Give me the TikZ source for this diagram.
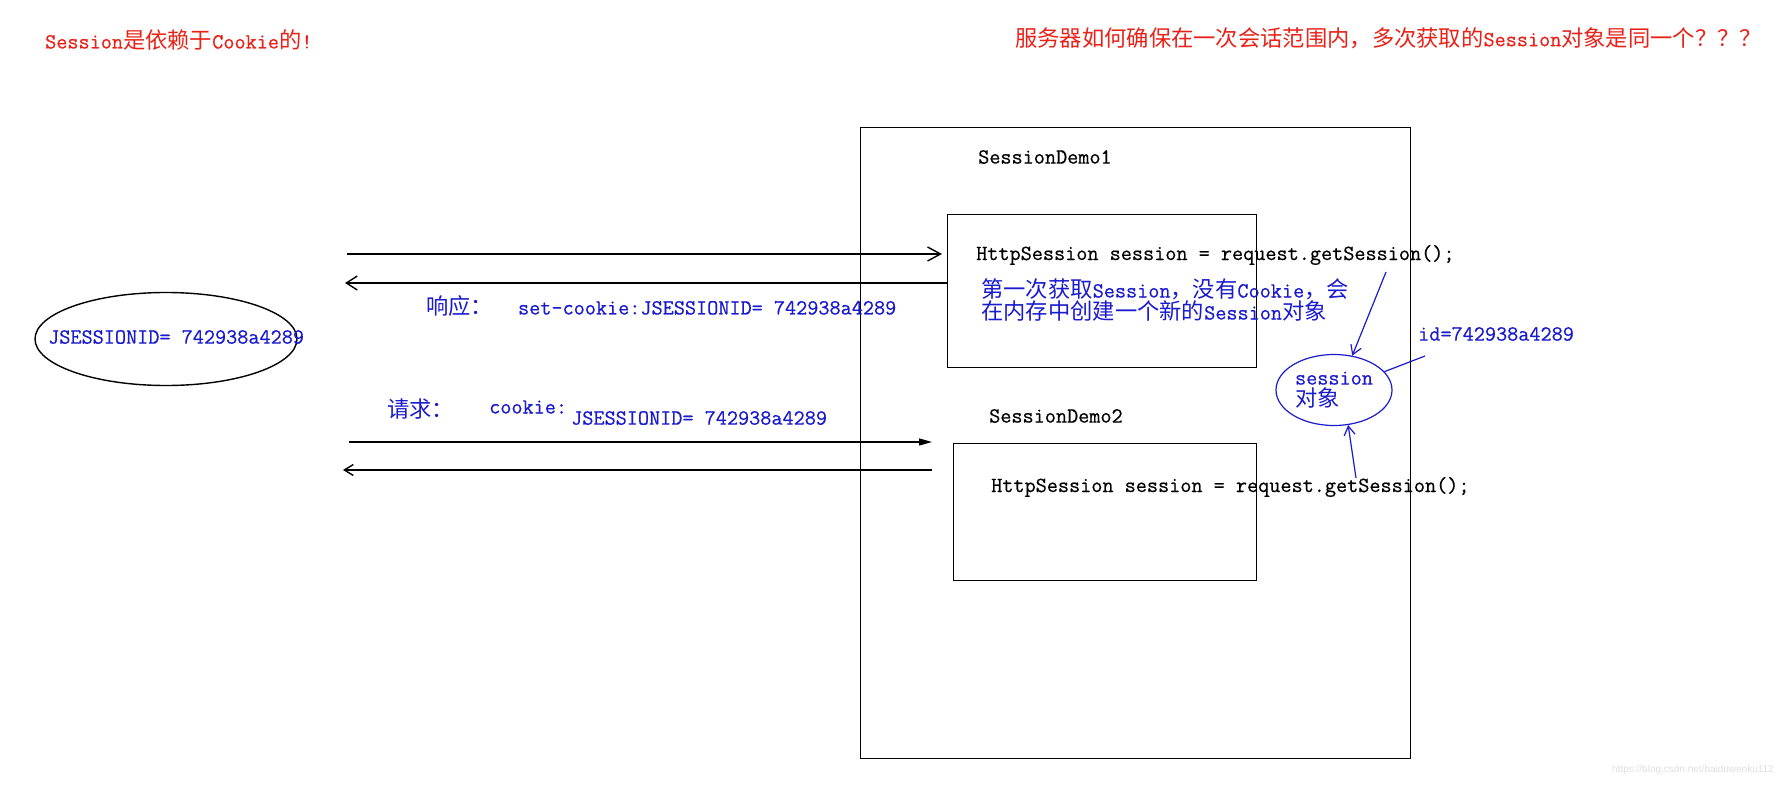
\documentclass[tikz,border=0pt]{standalone}
\usepackage{fontspec}
\usepackage{xcolor}
\usepackage{tikz}
\usetikzlibrary{arrows.meta,shapes.geometric}
\setmonofont{Latin Modern Mono}[FakeBold=0.6]
\newfontfamily\zhfont{Noto Sans CJK SC}
\newfontfamily\markfont{Liberation Sans}
\newcommand\zh[1]{{\zhfont\fontsize{22.3}{22}\selectfont #1}}
\definecolor{notered}{RGB}{232,34,24}
\definecolor{noteblue}{RGB}{26,26,206}
\tikzset{
  sketchtext/.style={inner sep=0pt, anchor=west,
    font=\fontsize{21.6}{22}\selectfont\ttfamily},
  sketchred/.style={sketchtext, text=notered},
  sketchblue/.style={sketchtext, text=noteblue},
  sketchbox/.style={draw=black, line width=1.4pt, anchor=north west,
    inner sep=0pt},
  sketcharrow/.style={line width=1.4pt, draw=black},
  bluearrow/.style={-{Straight Barb[length=9pt,width=11pt]},
    line width=1.2pt, draw=noteblue}
}

\begin{document}
\begin{tikzpicture}[x=1pt, y=-1pt]
  \path[fill=white, use as bounding box] (0,0) rectangle (1783,789);

  % headings
  \node[sketchred] (topic) at (45,40) {Session\zh{是依赖于}Cookie\zh{的}!};
  \node[sketchred] (question) at (1015,38)
    {\zh{服务器如何确保在一次会话范围内，多次获取的}Session\zh{对象是同一个？？？}};

  % browser side
  \node[ellipse, draw=black, line width=1.4pt, minimum width=262pt,
    minimum height=93pt] (browser) at (166,339) {};
  \node[sketchblue] (cookieval) at (48,337) {JSESSIONID= 742938a4289};

  % server side
  \node[sketchbox, minimum width=550pt, minimum height=631pt] (server)
    at (860,127) {};
  \node[sketchtext] (demoAname) at (978,157) {SessionDemo1};
  \node[sketchbox, minimum width=309pt, minimum height=153pt] (demoA)
    at (947,214) {};
  \node[sketchtext] (codeA) at (976,255)
    {HttpSession session = request.getSession();};
  \node[sketchblue, align=left] (firstnote) at (981,300)
    {\zh{第一次获取}Session\zh{，没有}Cookie\zh{，会}\\
     \zh{在内存中创建一个新的}Session\zh{对象}};
  \node[sketchtext] (demoBname) at (989,416) {SessionDemo2};
  \node[sketchbox, minimum width=303pt, minimum height=137pt] (demoB)
    at (953,443) {};
  \node[sketchtext] (codeB) at (991,487)
    {HttpSession session = request.getSession();};

  % the session object
  \node[ellipse, draw=noteblue, line width=1.2pt, minimum width=116pt,
    minimum height=71pt, inner sep=0pt, text=noteblue, align=left,
    font=\fontsize{21.6}{22}\selectfont\ttfamily] (sobj) at (1334,390)
    {session\\\zh{对象}};
  \node[sketchblue] (sid) at (1418,334) {id=742938a4289};

  % labels of the exchanges
  \node[sketchblue] (resptext) at (426,306)
    {\zh{响应：}\hspace{25pt}set-cookie:JSESSIONID= 742938a4289};
  \node[sketchblue] (reqlabel) at (387,409) {\zh{请求：}};
  \node[sketchblue] (reqcookie) at (489,407) {cookie:};
  \node[sketchblue] (reqid) at (571,418) {JSESSIONID= 742938a4289};

  \coordinate (reqA) at (347,254);
  \coordinate (resA) at (345,283);
  \coordinate (reqB) at (349,442);
  \coordinate (resB) at (343,470);
  \coordinate (getA) at (1386,272);
  \coordinate (getB) at (1356,478);
  \coordinate (idfoot) at (1425,356);

  \draw[sketcharrow, -{Straight Barb[length=13pt,width=14pt]},
    shorten >=5pt] (reqA) -- (reqA -| demoA.west);
  \draw[sketcharrow, -{Straight Barb[length=11pt,width=14pt]}]
    (resA -| demoA.west) -- (resA);
  \draw[sketcharrow, -{Triangle[length=13pt,width=7pt]},
    shorten >=21pt] (reqB) -- (reqB -| demoB.west);
  \draw[sketcharrow, -{Straight Barb[length=9pt,width=11pt]},
    shorten <=21pt] (resB -| demoB.west) -- (resB);

  \draw[bluearrow] (getA) -- (sobj.62);
  \draw[bluearrow] (getB) -- (sobj.-68);
  \draw[line width=1.2pt, noteblue] (idfoot) -- (sobj.20);

  \node[anchor=east, inner sep=0pt, text=black!12,
    font=\markfont\fontsize{10}{12}\selectfont] (mark) at (1774,770)
    {https://blog.csdn.net/baiduwenku112};
\end{tikzpicture}
\end{document}
